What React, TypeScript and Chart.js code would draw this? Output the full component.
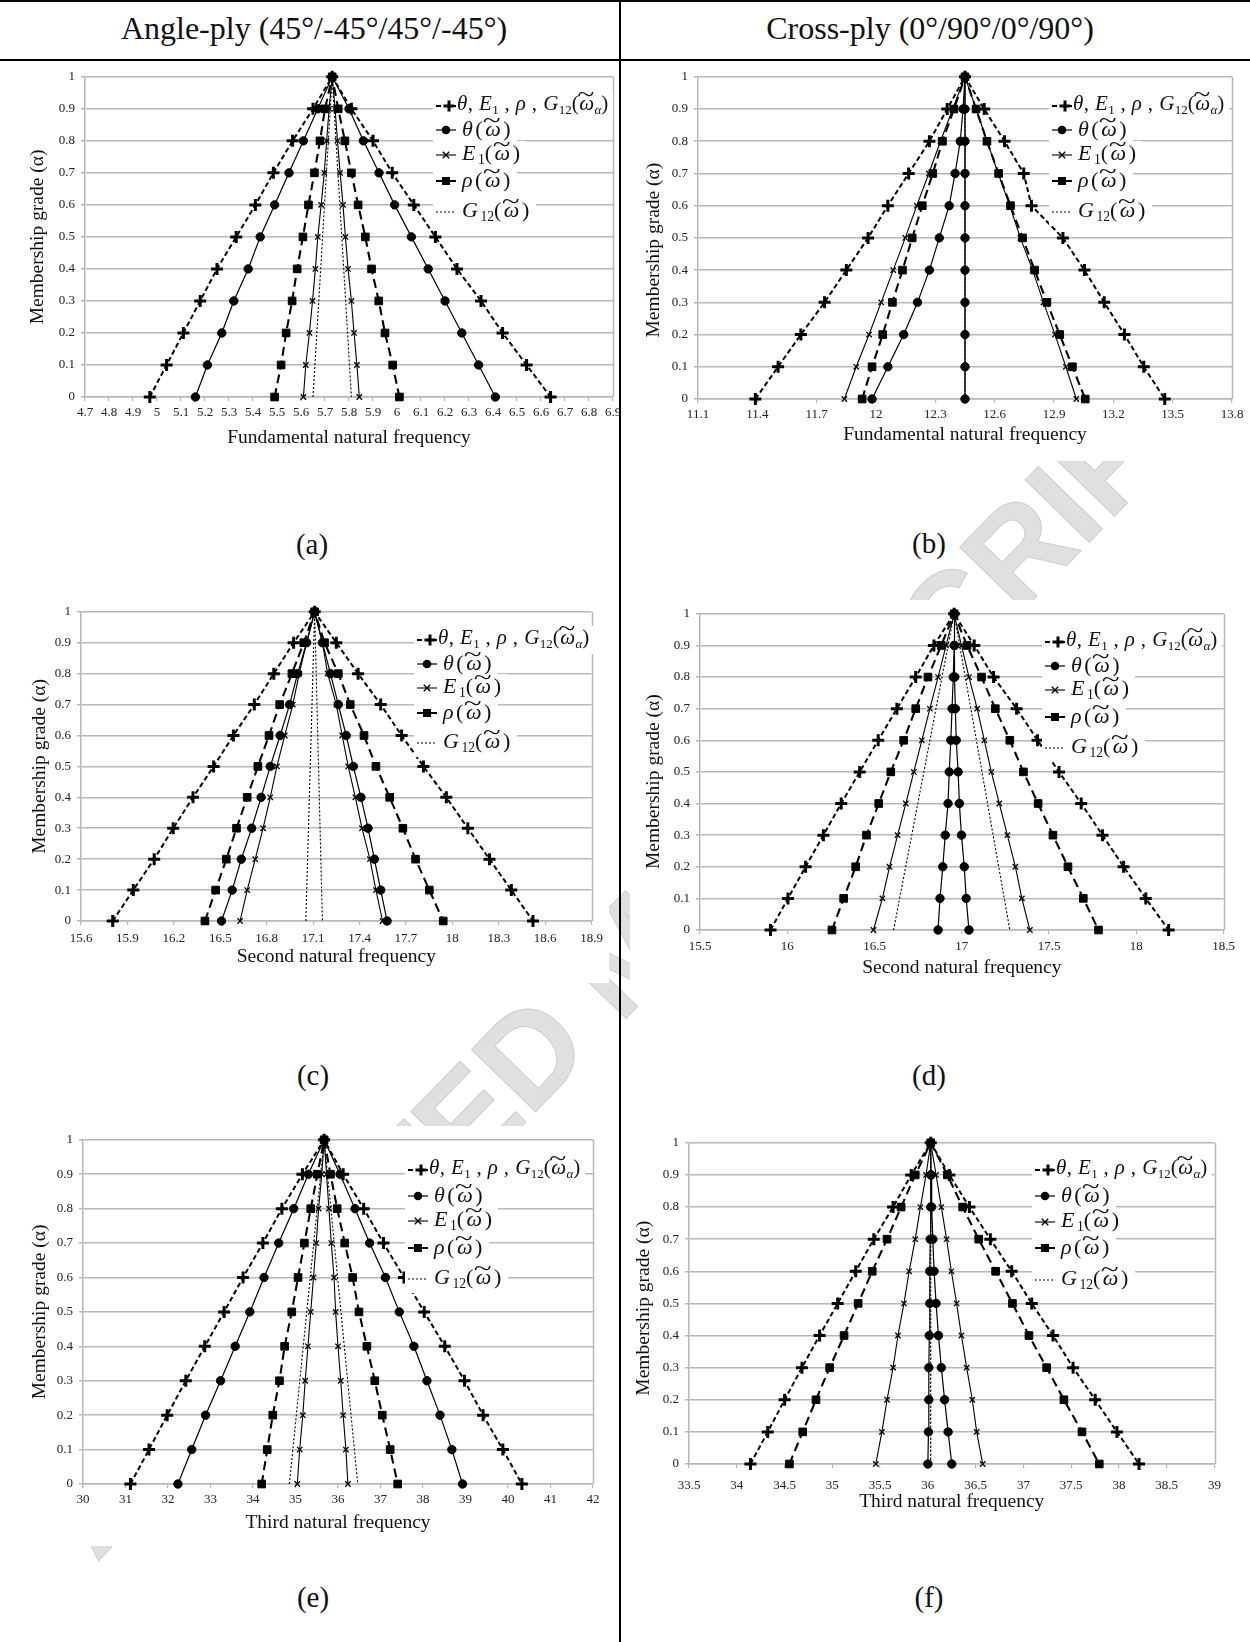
import React, { useEffect, useRef } from "react";
import { Chart, registerables } from "chart.js";
Chart.register(...registerables);

const FONT = "'Liberation Serif', 'Times New Roman', serif";
const GRID = "#b8b8b8";

// ---------------- data ----------------
const ALPHA = [0, 0.1, 0.2, 0.3, 0.4, 0.5, 0.6, 0.7, 0.8, 0.9, 1];
const ALPHA_ENDS = [0, 1];
const Y_TICKS = [0, 0.1, 0.2, 0.3, 0.4, 0.5, 0.6, 0.7, 0.8, 0.9, 1];

// (a) Angle-ply, fundamental
const A_X_TICKS = [4.7, 4.8, 4.9, 5, 5.1, 5.2, 5.3, 5.4, 5.5, 5.6, 5.7, 5.8, 5.9, 6, 6.1, 6.2, 6.3, 6.4, 6.5, 6.6, 6.7, 6.8, 6.9];
const A_ALL_LO = [4.97, 5.04, 5.11, 5.18, 5.25, 5.33, 5.41, 5.485, 5.565, 5.65, 5.73];
const A_ALL_HI = [6.64, 6.54, 6.44, 6.35, 6.25, 6.16, 6.07, 5.98, 5.9, 5.81, 5.73];
const A_TH_LO = [5.16, 5.21, 5.27, 5.32, 5.38, 5.43, 5.49, 5.55, 5.61, 5.67, 5.73];
const A_TH_HI = [6.41, 6.34, 6.27, 6.2, 6.13, 6.06, 5.99, 5.925, 5.86, 5.8, 5.73];
const A_E1_LO = [5.61, 5.62, 5.635, 5.648, 5.66, 5.67, 5.684, 5.697, 5.707, 5.717, 5.73];
const A_E1_HI = [5.843, 5.833, 5.821, 5.81, 5.796, 5.785, 5.775, 5.763, 5.752, 5.742, 5.73];
const A_RHO_LO = [5.49, 5.517, 5.538, 5.563, 5.584, 5.608, 5.631, 5.656, 5.679, 5.7, 5.73];
const A_RHO_HI = [6.01, 5.982, 5.95, 5.924, 5.894, 5.868, 5.838, 5.81, 5.783, 5.755, 5.73];
const A_G12_LO = [5.65, 5.73];
const A_G12_HI = [5.81, 5.73];

// (b) Cross-ply, fundamental
const B_X_TICKS = [11.1, 11.4, 11.7, 12, 12.3, 12.6, 12.9, 13.2, 13.5, 13.8];
const B_ALL_LO = [11.39, 11.505, 11.62, 11.74, 11.85, 11.96, 12.06, 12.165, 12.27, 12.36, 12.45];
const B_ALL_HI = [13.46, 13.354, 13.256, 13.154, 13.054, 12.945, 12.786, 12.747, 12.65, 12.547, 12.45];
const B_TH_LO = [11.98, 12.06, 12.14, 12.21, 12.27, 12.32, 12.37, 12.4, 12.426, 12.44, 12.45];
const B_TH_HI = [12.45, 12.45, 12.45, 12.45, 12.45, 12.45, 12.45, 12.45, 12.45, 12.45, 12.45];
const B_E1_LO = [11.84, 11.9, 11.965, 12.026, 12.087, 12.148, 12.206, 12.267, 12.326, 12.388, 12.45];
const B_E1_HI = [13.013, 12.96, 12.905, 12.847, 12.792, 12.73, 12.676, 12.618, 12.561, 12.506, 12.45];
const B_RHO_LO = [11.93, 11.98, 12.034, 12.083, 12.134, 12.183, 12.234, 12.287, 12.336, 12.394, 12.45];
const B_RHO_HI = [13.058, 12.993, 12.929, 12.864, 12.802, 12.741, 12.68, 12.62, 12.561, 12.506, 12.45];
const B_G12_LO = [12.45, 12.45];
const B_G12_HI = [12.45, 12.45];

// (c) Angle-ply, second
const C_X_TICKS = [15.6, 15.9, 16.2, 16.5, 16.8, 17.1, 17.4, 17.7, 18, 18.3, 18.6, 18.9];
const C_ALL_LO = [15.805, 15.938, 16.073, 16.196, 16.324, 16.457, 16.585, 16.72, 16.846, 16.974, 17.11];
const C_ALL_HI = [18.521, 18.381, 18.24, 18.1, 17.961, 17.813, 17.672, 17.537, 17.391, 17.25, 17.11];
const C_TH_LO = [16.508, 16.577, 16.636, 16.703, 16.764, 16.823, 16.887, 16.948, 17.0, 17.058, 17.11];
const C_TH_HI = [17.578, 17.537, 17.496, 17.455, 17.409, 17.36, 17.314, 17.263, 17.212, 17.16, 17.11];
const C_E1_LO = [16.628, 16.674, 16.726, 16.777, 16.823, 16.866, 16.917, 16.969, 17.01, 17.058, 17.11];
const C_E1_HI = [17.549, 17.506, 17.467, 17.416, 17.373, 17.327, 17.288, 17.25, 17.194, 17.16, 17.11];
const C_RHO_LO = [16.401, 16.47, 16.539, 16.605, 16.674, 16.743, 16.815, 16.884, 16.963, 17.04, 17.11];
const C_RHO_HI = [17.941, 17.851, 17.762, 17.68, 17.595, 17.506, 17.429, 17.34, 17.263, 17.174, 17.11];
const C_G12_LO = [17.053, 17.11];
const C_G12_HI = [17.16, 17.11];

// (d) Cross-ply, second
const D_X_TICKS = [15.5, 16, 16.5, 17, 17.5, 18, 18.5];
const D_ALL_LO = [15.904, 16.004, 16.105, 16.207, 16.309, 16.415, 16.521, 16.628, 16.736, 16.84, 16.956];
const D_ALL_HI = [18.185, 18.054, 17.927, 17.806, 17.684, 17.557, 17.434, 17.314, 17.182, 17.071, 16.956];
const D_TH_LO = [16.864, 16.875, 16.891, 16.905, 16.921, 16.928, 16.937, 16.944, 16.951, 16.956, 16.956];
const D_TH_HI = [17.041, 17.025, 17.014, 16.998, 16.986, 16.979, 16.968, 16.963, 16.96, 16.958, 16.956];
const D_E1_LO = [16.494, 16.545, 16.586, 16.632, 16.679, 16.725, 16.771, 16.817, 16.864, 16.91, 16.956];
const D_E1_HI = [17.39, 17.344, 17.307, 17.261, 17.215, 17.169, 17.129, 17.088, 17.041, 16.998, 16.956];
const D_RHO_LO = [16.256, 16.323, 16.392, 16.454, 16.524, 16.593, 16.667, 16.736, 16.806, 16.882, 16.956];
const D_RHO_HI = [17.783, 17.696, 17.608, 17.522, 17.437, 17.353, 17.275, 17.192, 17.113, 17.03, 16.956];
const D_G12_LO = [16.609, 16.956];
const D_G12_HI = [17.275, 16.956];

// (e) Angle-ply, third
const E_X_TICKS = [30, 31, 32, 33, 34, 35, 36, 37, 38, 39, 40, 41, 42];
const E_ALL_LO = [31.116, 31.553, 31.981, 32.419, 32.865, 33.321, 33.767, 34.233, 34.679, 35.163, 35.674];
const E_ALL_HI = [40.326, 39.879, 39.414, 38.977, 38.512, 38.028, 37.553, 37.07, 36.605, 36.121, 35.674];
const E_TH_LO = [32.233, 32.558, 32.884, 33.237, 33.581, 33.926, 34.26, 34.605, 34.958, 35.302, 35.674];
const E_TH_HI = [38.93, 38.679, 38.4, 38.093, 37.786, 37.442, 37.116, 36.744, 36.4, 36.047, 35.674];
const E_E1_LO = [35.042, 35.098, 35.172, 35.228, 35.293, 35.358, 35.423, 35.488, 35.544, 35.619, 35.674];
const E_E1_HI = [36.233, 36.186, 36.121, 36.065, 36.0, 35.944, 35.907, 35.842, 35.786, 35.73, 35.674];
const E_RHO_LO = [34.205, 34.335, 34.465, 34.623, 34.744, 34.912, 35.06, 35.209, 35.358, 35.516, 35.674];
const E_RHO_HI = [37.405, 37.228, 37.042, 36.865, 36.679, 36.493, 36.344, 36.158, 35.981, 35.823, 35.674];
const E_G12_LO = [34.856, 35.674];
const E_G12_HI = [36.465, 35.674];

// (f) Cross-ply, third
const F_X_TICKS = [33.5, 34, 34.5, 35, 35.5, 36, 36.5, 37, 37.5, 38, 38.5, 39];
const F_ALL_LO = [34.143, 34.324, 34.501, 34.682, 34.867, 35.056, 35.245, 35.434, 35.636, 35.826, 36.03];
const F_ALL_HI = [38.21, 37.979, 37.751, 37.52, 37.31, 37.087, 36.877, 36.654, 36.435, 36.225, 36.03];
const F_TH_LO = [36.0, 36.006, 36.01, 36.01, 36.015, 36.02, 36.02, 36.025, 36.03, 36.03, 36.03];
const F_TH_HI = [36.25, 36.212, 36.175, 36.141, 36.111, 36.086, 36.065, 36.052, 36.04, 36.035, 36.03];
const F_E1_LO = [35.455, 35.519, 35.573, 35.636, 35.687, 35.75, 35.804, 35.868, 35.922, 35.981, 36.03];
const F_E1_HI = [36.574, 36.511, 36.465, 36.406, 36.351, 36.301, 36.246, 36.196, 36.141, 36.086, 36.03];
const F_RHO_LO = [34.551, 34.69, 34.829, 34.972, 35.123, 35.27, 35.418, 35.573, 35.72, 35.868, 36.03];
const F_RHO_HI = [37.794, 37.613, 37.424, 37.243, 37.058, 36.885, 36.709, 36.532, 36.364, 36.204, 36.03];
const F_G12_LO = [36.03, 36.03];
const F_G12_HI = [36.03, 36.03];

const HEADERS = ["Angle-ply (45°/-45°/45°/-45°)", "Cross-ply (0°/90°/0°/90°)"];
const Y_TITLE = "Membership grade (α)";
const WATERMARK = "ACCEPTED MANUSCRIPT";

// ---------------- styles ----------------
type Kind = "all" | "th" | "e1" | "rho" | "g12";
const STYLE: Record<Kind, any> = {
  all: { dash: [5, 3], width: 2, point: "cross", radius: 6, pbw: 3 },
  th: { dash: [], width: 1.2, point: "circle", radius: 4.2, pbw: 1 },
  e1: { dash: [], width: 1.1, point: "crossRot", radius: 3.8, pbw: 1.3 },
  rho: { dash: [9, 5], width: 2.1, point: "rect", radius: 5.4, pbw: 1 },
  g12: { dash: [2, 2], width: 1.1, point: false, radius: 0, pbw: 0 },
};
const ORDER: Kind[] = ["all", "th", "e1", "rho", "g12"];

const YW = 70, XH = 62, PT = 12, PR = 16;
const TITLE_SIZE = 19.5;
const TICK_SIZE = 13;
const NBSP = "\u00A0";

type PanelCfg = {
  ticks: number[];
  xTitle: string;
  series: Record<Kind, [number[], number[], number[]]>;
  L: number; T: number; R: number; B: number;
  yGap: number; xGap: number; xPad: number; yShift: number;
  legX: number; legY: number[];
  tag: string; tagX: number; tagY: number;
};

const PANELS: PanelCfg[] = [
  {
    ticks: A_X_TICKS, xTitle: "Fundamental natural frequency",
    series: { all: [ALPHA, A_ALL_LO, A_ALL_HI], th: [ALPHA, A_TH_LO, A_TH_HI], e1: [ALPHA, A_E1_LO, A_E1_HI], rho: [ALPHA, A_RHO_LO, A_RHO_HI], g12: [ALPHA_ENDS, A_G12_LO, A_G12_HI] },
    L: 85, T: 75, R: 613, B: 397, yGap: 47.4, xGap: 41, xPad: 5, yShift: 0,
    legX: 436, legY: [106, 130, 155, 181, 212], tag: "(a)", tagX: 312, tagY: 544,
  },
  {
    ticks: B_X_TICKS, xTitle: "Fundamental natural frequency",
    series: { all: [ALPHA, B_ALL_LO, B_ALL_HI], th: [ALPHA, B_TH_LO, B_TH_HI], e1: [ALPHA, B_E1_LO, B_E1_HI], rho: [ALPHA, B_RHO_LO, B_RHO_HI], g12: [ALPHA_ENDS, B_G12_LO, B_G12_HI] },
    L: 698, T: 75, R: 1232, B: 399, yGap: 44, xGap: 36, xPad: 5, yShift: 5,
    legX: 1052, legY: [106, 130, 155, 181, 212], tag: "(b)", tagX: 929, tagY: 543,
  },
  {
    ticks: C_X_TICKS, xTitle: "Second natural frequency",
    series: { all: [ALPHA, C_ALL_LO, C_ALL_HI], th: [ALPHA, C_TH_LO, C_TH_HI], e1: [ALPHA, C_E1_LO, C_E1_HI], rho: [ALPHA, C_RHO_LO, C_RHO_HI], g12: [ALPHA_ENDS, C_G12_LO, C_G12_HI] },
    L: 81, T: 610, R: 593, B: 921, yGap: 41.5, xGap: 36, xPad: 7, yShift: 0,
    legX: 417, legY: [640, 664, 688, 713, 743], tag: "(c)", tagX: 313, tagY: 1075,
  },
  {
    ticks: D_X_TICKS, xTitle: "Second natural frequency",
    series: { all: [ALPHA, D_ALL_LO, D_ALL_HI], th: [ALPHA, D_TH_LO, D_TH_HI], e1: [ALPHA, D_E1_LO, D_E1_HI], rho: [ALPHA, D_RHO_LO, D_RHO_HI], g12: [ALPHA_ENDS, D_G12_LO, D_G12_HI] },
    L: 700, T: 612, R: 1224, B: 930, yGap: 46, xGap: 37.5, xPad: 6, yShift: 4,
    legX: 1045, legY: [642, 666, 690, 717, 748], tag: "(d)", tagX: 929, tagY: 1075,
  },
  {
    ticks: E_X_TICKS, xTitle: "Third natural frequency",
    series: { all: [ALPHA, E_ALL_LO, E_ALL_HI], th: [ALPHA, E_TH_LO, E_TH_HI], e1: [ALPHA, E_E1_LO, E_E1_HI], rho: [ALPHA, E_RHO_LO, E_RHO_HI], g12: [ALPHA_ENDS, E_G12_LO, E_G12_HI] },
    L: 83, T: 1138, R: 593, B: 1484, yGap: 43.5, xGap: 39, xPad: 5, yShift: 0,
    legX: 408, legY: [1170, 1196, 1221, 1248, 1279], tag: "(e)", tagX: 313, tagY: 1597,
  },
  {
    ticks: F_X_TICKS, xTitle: "Third natural frequency",
    series: { all: [ALPHA, F_ALL_LO, F_ALL_HI], th: [ALPHA, F_TH_LO, F_TH_HI], e1: [ALPHA, F_E1_LO, F_E1_HI], rho: [ALPHA, F_RHO_LO, F_RHO_HI], g12: [ALPHA_ENDS, F_G12_LO, F_G12_HI] },
    L: 689, T: 1141, R: 1215, B: 1464, yGap: 45, xGap: 38, xPad: 11, yShift: 2,
    legX: 1035, legY: [1170, 1196, 1222, 1248, 1280], tag: "(f)", tagX: 929, tagY: 1597,
  },
];

function fuzzyPoints(alpha: number[], lo: number[], hi: number[]) {
  const pts = alpha.map((a, i) => ({ x: lo[i], y: a }));
  for (let i = alpha.length - 2; i >= 0; i--) pts.push({ x: hi[i], y: alpha[i] });
  return pts;
}

const framePlugin = {
  id: "frame",
  beforeDatasetsDraw(chart: any) {
    const { ctx, chartArea: a } = chart;
    ctx.save();
    ctx.strokeStyle = GRID;
    ctx.lineWidth = 1.5;
    ctx.beginPath();
    ctx.moveTo(Math.round(a.right) + 0.5, a.top);
    ctx.lineTo(Math.round(a.right) + 0.5, a.bottom);
    ctx.stroke();
    ctx.restore();
  },
};

function ChartPanel({ p }: { p: PanelCfg }) {
  const ref = useRef<HTMLCanvasElement>(null);
  const w = p.R - p.L + YW + PR;
  const h = p.B - p.T + PT + XH;
  useEffect(() => {
    const lh = TITLE_SIZE * 1.2;
    const datasets = ORDER.map((k) => {
      const s = STYLE[k];
      const [al, lo, hi] = p.series[k];
      return {
        data: fuzzyPoints(al, lo, hi),
        showLine: true,
        borderColor: "#000",
        backgroundColor: "#000",
        borderWidth: s.width,
        borderDash: s.dash,
        pointStyle: s.point,
        pointRadius: s.radius,
        pointBorderWidth: s.pbw,
        pointBackgroundColor: "#000",
        pointBorderColor: "#000",
        tension: 0,
        clip: false,
      };
    });
    const chart = new Chart(ref.current!, {
      type: "scatter",
      data: { datasets } as any,
      options: {
        animation: false,
        responsive: false,
        layout: { padding: { top: PT, right: PR, left: 0, bottom: 0 } },
        plugins: { legend: { display: false }, tooltip: { enabled: false } },
        scales: {
          x: {
            type: "linear",
            min: p.ticks[0],
            max: p.ticks[p.ticks.length - 1],
            afterFit: (s: any) => { s.height = XH; },
            afterBuildTicks: (s: any) => { s.ticks = p.ticks.map((v) => ({ value: v })); },
            ticks: {
              autoSkip: false, maxRotation: 0, minRotation: 0, padding: p.xPad - 1,
              font: { family: FONT, size: TICK_SIZE }, color: "#222",
              callback: (v: any) => String(v),
            },
            grid: { drawOnChartArea: false, drawTicks: true, tickLength: 4, color: GRID, lineWidth: 1.2 },
            border: { display: true, color: GRID, width: 1.5 },
            title: {
              display: true, text: p.xTitle, color: "#111",
              font: { family: FONT, size: TITLE_SIZE },
              padding: { top: 0, bottom: XH - lh / 2 - p.xGap },
            },
          },
          y: {
            type: "linear", min: 0, max: 1,
            afterFit: (s: any) => { s.width = YW; },
            afterBuildTicks: (s: any) => { s.ticks = Y_TICKS.map((v) => ({ value: v })); },
            ticks: {
              autoSkip: false, padding: 6,
              font: { family: FONT, size: TICK_SIZE }, color: "#222",
              callback: (v: any) => String(v),
            },
            grid: { color: GRID, lineWidth: 1.5, tickLength: 4 },
            border: { display: true, color: GRID, width: 1.5 },
            title: {
              display: true, text: Y_TITLE + NBSP.repeat(p.yShift), color: "#111",
              font: { family: FONT, size: TITLE_SIZE },
              padding: { top: YW - p.yGap - lh / 2, bottom: 0 },
            },
          },
        },
      } as any,
      plugins: [framePlugin],
    });
    return () => chart.destroy();
  }, []);
  return (
    <canvas
      ref={ref}
      width={w}
      height={h}
      style={{ position: "absolute", left: p.L - YW, top: p.T - PT, width: w, height: h, background: "#fff" }}
    />
  );
}

function Sample({ k }: { k: Kind }) {
  const s = STYLE[k];
  const W = 20;
  const c = k === "all" ? 13 : 10;
  let marker: any = null;
  if (k === "all") marker = (<g stroke="#000" strokeWidth={3}><line x1={c - 5.5} y1={7} x2={c + 5.5} y2={7} /><line x1={c} y1={1.5} x2={c} y2={12.5} /></g>);
  if (k === "th") marker = <circle cx={c} cy={7} r={4.3} fill="#000" />;
  if (k === "e1") marker = (<g stroke="#000" strokeWidth={1.3}><line x1={c - 3.2} y1={3.8} x2={c + 3.2} y2={10.2} /><line x1={c - 3.2} y1={10.2} x2={c + 3.2} y2={3.8} /></g>);
  if (k === "rho") marker = <rect x={c - 4} y={3} width={8} height={8} fill="#000" />;
  return (
    <svg width={W} height={14} style={{ flex: "none", display: "block" }}>
      <line x1={0} y1={7} x2={W} y2={7} stroke="#000" strokeWidth={s.width} strokeDasharray={s.dash.length ? s.dash.join(" ") : undefined} />
      {marker}
    </svg>
  );
}

const subStyle: any = { fontSize: "0.62em", position: "relative", top: "0.32em", fontStyle: "normal", letterSpacing: 0 };
function Om() {
  return (
    <span style={{ position: "relative", display: "inline-block" }}>
      <i>ω</i>
      <span style={{ position: "absolute", left: "-0.05em", right: 0, top: "-0.4em", textAlign: "center", fontStyle: "normal", transform: "scaleX(1.5)" }}>~</span>
    </span>
  );
}

function LegendText({ k }: { k: Kind }) {
  if (k === "all")
    return (<span><i>θ</i>, <i>E</i><span style={subStyle}>1</span> , <i>ρ</i> , <i>G</i><span style={subStyle}>12</span>(<Om /><span style={subStyle}><i>α</i></span>)</span>);
  if (k === "th") return (<span><i>θ</i>(<Om />)</span>);
  if (k === "e1") return (<span><i>E</i><span style={subStyle}>1</span>(<Om />)</span>);
  if (k === "rho") return (<span><i>ρ</i>(<Om />)</span>);
  return (<span><i>G</i><span style={subStyle}>12</span>(<Om />)</span>);
}

function Legend({ p }: { p: PanelCfg }) {
  return (
    <>
      {ORDER.map((k, i) => {
        const first = i === 0;
        return (
          <div
            key={k}
            style={{
              position: "absolute", left: p.legX - 3, top: p.legY[i] - 14, height: 28,
              display: "flex", alignItems: "center", background: "#fff",
              paddingLeft: 3, paddingRight: 4, fontFamily: FONT, color: "#111",
              fontSize: first ? 21 : 22, letterSpacing: first ? "0.4px" : "2.5px",
              whiteSpace: "nowrap", lineHeight: "28px",
            }}
          >
            <Sample k={k} />
            <span style={{ marginLeft: first ? 1 : 6, position: "relative", top: first ? -2 : -1 }}><LegendText k={k} /></span>
          </div>
        );
      })}
    </>
  );
}

export default function App() {
  return (
    <div style={{ position: "absolute", left: 0, top: 0, width: 1250, height: 1642, background: "#fff", overflow: "hidden", fontFamily: FONT }}>
      <div
        style={{
          position: "absolute", left: 628 - 1000, top: 952 - 80, width: 2000, height: 160, lineHeight: "160px",
          textAlign: "center", fontFamily: "'Liberation Sans', Arial, sans-serif", fontWeight: "bold", fontSize: 130,
          color: "#e0e0e0", WebkitTextStroke: "1px #cdcdcd", transform: "rotate(-45.8deg)", transformOrigin: "50% 50%",
          whiteSpace: "nowrap",
        }}
      >
        {WATERMARK}
      </div>
      {PANELS.map((p, i) => (
        <React.Fragment key={i}>
          <ChartPanel p={p} />
          <Legend p={p} />
          <div style={{ position: "absolute", left: p.tagX - 40, width: 80, top: p.tagY - 18, height: 36, lineHeight: "36px", textAlign: "center", fontSize: 29, color: "#111" }}>{p.tag}</div>
        </React.Fragment>
      ))}
      <div style={{ position: "absolute", left: 314 - 300, width: 600, top: 8, height: 40, lineHeight: "40px", textAlign: "center", fontSize: 32, color: "#111" }}>{HEADERS[0]}</div>
      <div style={{ position: "absolute", left: 930 - 300, width: 600, top: 8, height: 40, lineHeight: "40px", textAlign: "center", fontSize: 32, color: "#111" }}>{HEADERS[1]}</div>
      <div style={{ position: "absolute", left: 0, top: 0, width: 1250, height: 2, background: "#000" }} />
      <div style={{ position: "absolute", left: 0, top: 59, width: 1250, height: 2, background: "#000" }} />
      <div style={{ position: "absolute", left: 619, top: 0, width: 2, height: 1642, background: "#000" }} />
    </div>
  );
}
